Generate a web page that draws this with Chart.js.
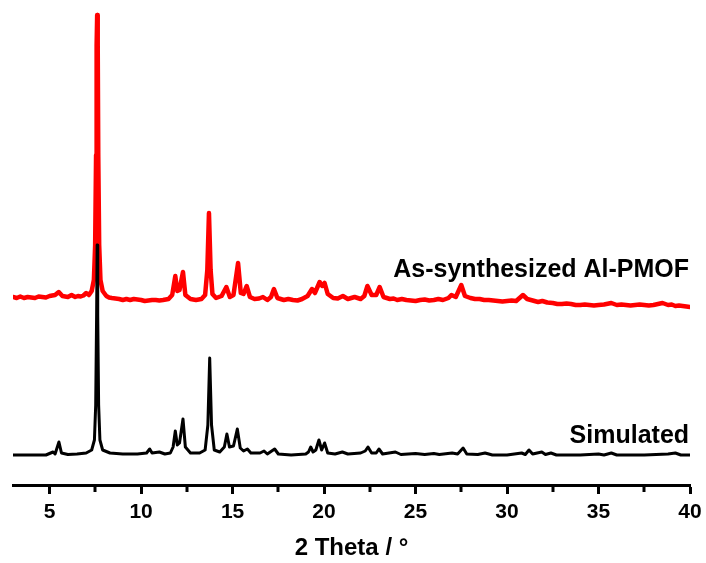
<!DOCTYPE html>
<html>
<head>
<meta charset="utf-8">
<script src="https://cdn.jsdelivr.net/npm/chart.js@4/dist/chart.umd.min.js"></script>
<style>
  html, body { margin: 0; padding: 0; background: #fff; }
</style>
</head>
<body>
<canvas id="xrd" width="706" height="563"></canvas>
<script>
// Simulated pattern (2θ in degrees, intensity in a.u., offset baseline)
const simTheta = [3.0, 4.0, 4.8, 5.19, 5.3, 5.51, 5.65, 6.0, 6.5, 7.0, 7.3, 7.45, 7.52, 7.57, 7.60, 7.63, 7.68, 7.75, 7.9, 8.3,
  9.0, 9.8, 10.3, 10.47, 10.6, 11.0, 11.3, 11.6, 11.75, 11.87, 11.98, 12.1, 12.29, 12.42, 12.7, 13.2, 13.5, 13.65, 13.75, 13.85,
  14.0, 14.3, 14.55, 14.69, 14.83, 15.05, 15.26, 15.42, 15.6, 15.81, 16.0, 16.5, 16.72, 16.9, 17.3, 17.5, 18.2, 19.0, 19.15, 19.27,
  19.4, 19.55, 19.72, 19.87, 20.03, 20.2, 20.6, 21.0, 21.3, 22.0, 22.25, 22.4, 22.6, 22.85, 23.0, 23.2, 23.9, 24.2, 25.0, 25.5,
  26.0, 26.3, 27.0, 27.3, 27.6, 27.8, 28.4, 28.8, 29.2, 30.0, 30.8, 31.0, 31.2, 31.4, 31.9, 32.1, 32.4, 32.7, 34.0, 35.0,
  35.3, 35.7, 36.0, 37.5, 38.8, 39.2, 39.5, 40.0];
const simIntensity = [30, 30, 30, 33, 31, 43, 32, 30.5, 31, 32, 35, 45, 80, 170, 240, 170, 80, 45, 35, 32,
  31, 31, 32, 36, 32, 33, 31, 32, 38, 54, 40, 42, 66, 38, 32, 32, 35, 60, 127, 60,
  35, 33, 38, 51, 38, 39, 56, 37, 34, 36, 32, 32, 34, 31, 36, 31, 30, 31, 33, 38,
  33, 35, 45, 35, 42, 32, 31, 33, 31, 32, 34, 38, 32, 32, 36, 31, 33, 30.5, 31.5, 30.5,
  31.5, 30.5, 32, 31, 37, 31, 30.5, 32, 30, 30, 32, 30.5, 35, 31, 33, 30.5, 32, 30, 30, 31,
  30, 32, 30, 30, 31, 32, 30, 30];

// As-synthesized Al-PMOF, measured pattern
const expTheta = [3.0, 3.2, 3.4, 3.6, 3.8, 4.0, 4.2, 4.4, 4.6, 4.8, 5.0, 5.3, 5.5, 5.7, 5.85, 6.0, 6.2, 6.4, 6.55, 6.7,
  6.85, 7.0, 7.15, 7.3, 7.42, 7.49, 7.54, 7.57, 7.60, 7.63, 7.66, 7.71, 7.78, 7.9, 8.1, 8.25, 8.4, 8.6, 8.8, 9.0,
  9.2, 9.4, 9.6, 9.8, 10.0, 10.2, 10.4, 10.6, 10.8, 11.0, 11.2, 11.5, 11.7, 11.87, 11.98, 12.1, 12.29, 12.42, 12.7, 13.0,
  13.3, 13.5, 13.62, 13.71, 13.80, 13.9, 14.1, 14.4, 14.66, 14.85, 15.05, 15.3, 15.45, 15.6, 15.77, 15.95, 16.2, 16.45, 16.66, 16.9,
  17.1, 17.26, 17.45, 17.8, 18.05, 18.3, 18.55, 18.8, 19.1, 19.34, 19.5, 19.76, 19.9, 20.03, 20.2, 20.5, 20.75, 21.03, 21.3, 21.67,
  22.0, 22.2, 22.37, 22.6, 22.85, 23.04, 23.25, 23.6, 23.8, 24.0, 24.25, 24.5, 24.75, 25.0, 25.25, 25.5, 25.75, 26.0, 26.25, 26.5,
  26.8, 26.96, 27.2, 27.5, 27.7, 28.0, 28.25, 28.5, 28.75, 29.0, 29.25, 29.5, 29.75, 30.0, 30.25, 30.5, 30.87, 31.1, 31.3, 31.5,
  31.7, 31.93, 32.2, 32.5, 32.75, 33.0, 33.25, 33.5, 33.75, 34.0, 34.25, 34.5, 34.75, 35.0, 35.3, 35.7, 36.0, 36.25, 36.5, 36.75,
  37.0, 37.25, 37.5, 37.75, 38.0, 38.25, 38.5, 38.8, 39.0, 39.2, 39.4, 39.6, 39.8, 40.0];
const expIntensity = [188, 187, 188.5, 187, 188, 187.5, 187, 188.5, 188, 187.5, 189, 190, 193, 189, 188.5, 188, 190, 188, 189, 188.5,
  189.5, 192, 190, 194, 205, 240, 330, 440, 470, 440, 330, 240, 205, 194, 189, 187.5, 187, 186.5, 186, 185,
  186, 185, 186, 185.5, 185, 184, 184.5, 185, 185, 184.5, 185, 186, 190, 209, 194, 195, 213, 190, 186, 185,
  186, 190, 215, 272, 215, 191, 187, 189, 198, 188, 190, 222, 192, 191, 199, 188, 186, 186.5, 188, 185,
  188, 196, 187, 185, 186, 185, 184.5, 186, 189, 196, 192, 203, 199, 202, 191, 187, 186.5, 189, 186, 188,
  186, 189, 199, 190, 190, 198, 188, 186, 186.5, 185, 186, 185, 184.5, 184, 185, 185.5, 184.5, 185, 186, 185,
  187, 190, 188, 200, 189, 187, 186, 186, 185, 185, 184.5, 184, 183.5, 184, 184.5, 184, 190, 186, 185, 184,
  183, 184, 182.5, 182, 181, 181, 181.5, 181, 180, 180, 180.5, 180, 179.5, 180, 180.5, 182, 180, 180.5, 180, 179.5,
  180, 180.5, 180, 179.5, 180, 181, 182, 180, 180.5, 179, 179.5, 179, 178.5, 178];

const xTicks = [5, 10, 15, 20, 25, 30, 35, 40];
const minorTicks = [7.5, 12.5, 17.5, 22.5, 27.5, 32.5, 37.5];

const seriesLabels = [
  { text: 'As-synthesized Al-PMOF', x: 39.95, y: 215 },
  { text: 'Simulated', x: 39.95, y: 49 }
];

const FONT = '"Liberation Sans", Arial, sans-serif';

const toPoints = (xs, ys) => xs.map((v, i) => ({ x: v, y: ys[i] }));

// minor ticks + curve captions
const extras = {
  id: 'extras',
  afterDraw(chart) {
    const { ctx, chartArea } = chart;
    const x = chart.scales.x, y = chart.scales.y;
    ctx.save();
    ctx.strokeStyle = '#000';
    ctx.lineWidth = 3;
    minorTicks.forEach(v => {
      const px = Math.round(x.getPixelForValue(v));
      ctx.beginPath();
      ctx.moveTo(px, chartArea.bottom);
      ctx.lineTo(px, chartArea.bottom + 7);
      ctx.stroke();
    });
    ctx.fillStyle = '#000';
    ctx.font = 'bold 25px ' + FONT;
    ctx.textAlign = 'right';
    ctx.textBaseline = 'middle';
    seriesLabels.forEach(l => ctx.fillText(l.text, x.getPixelForValue(l.x), y.getPixelForValue(l.y)));
    ctx.restore();
  }
};

new Chart(document.getElementById('xrd'), {
  type: 'scatter',
  data: {
    datasets: [
      { label: 'Simulated', data: toPoints(simTheta, simIntensity), showLine: true,
        borderColor: '#000', borderWidth: 3, pointRadius: 0, tension: 0, order: 0 },
      { label: 'As-synthesized Al-PMOF', data: toPoints(expTheta, expIntensity), showLine: true,
        borderColor: '#ff0000', borderWidth: 4.5, pointRadius: 0, tension: 0, order: 1 }
    ]
  },
  options: {
    responsive: false,
    animation: false,
    layout: { padding: { left: 13, right: 0, top: 5, bottom: 0 } },
    plugins: { legend: { display: false }, tooltip: { enabled: false } },
    elements: { line: { borderJoinStyle: 'round', borderCapStyle: 'round' } },
    scales: {
      x: {
        type: 'linear',
        min: 3,
        max: 40,
        border: { display: true, width: 3, color: '#000' },
        grid: { drawOnChartArea: false, drawTicks: true, tickLength: 9, tickWidth: 3, tickColor: '#000' },
        afterBuildTicks: scale => { scale.ticks = xTicks.map(v => ({ value: v })); },
        afterFit: scale => { scale.height = 78; scale.paddingRight = 16; scale.paddingLeft = 0; },
        ticks: {
          color: '#000', padding: 6, maxRotation: 0, autoSkip: false,
          font: { family: FONT, size: 21, weight: 'bold' }
        },
        title: {
          display: true, text: '2 Theta / °', color: '#000',
          font: { family: FONT, size: 24, weight: 'bold' },
          padding: 0
        }
      },
      y: {
        type: 'linear',
        display: false,
        min: 0,
        max: 480
      }
    }
  },
  plugins: [extras]
});
</script>
</body>
</html>
